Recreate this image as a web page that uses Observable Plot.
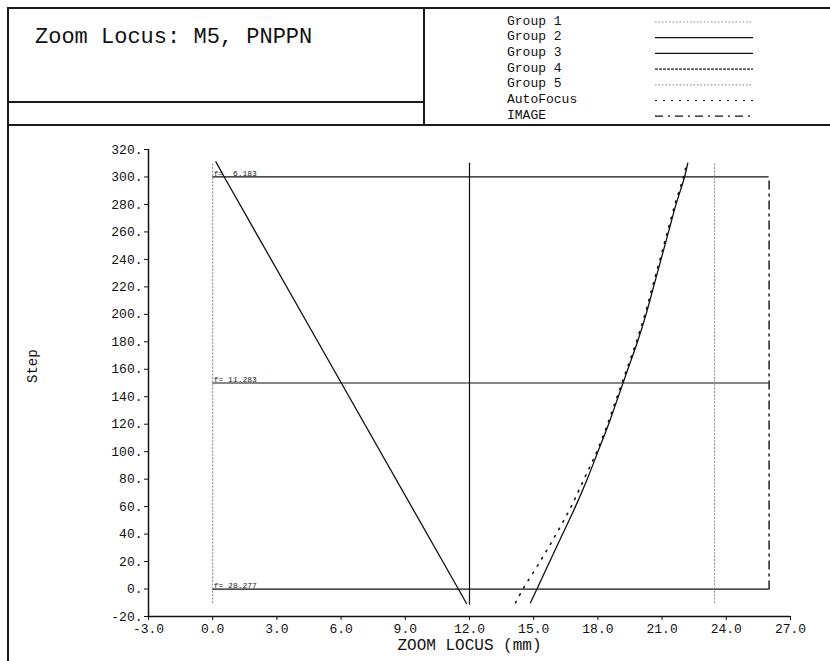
<!DOCTYPE html>
<html>
<head>
<meta charset="utf-8">
<script src="https://cdn.jsdelivr.net/npm/d3@7"></script>
<script src="https://cdn.jsdelivr.net/npm/@observablehq/plot@0.6"></script>
<style>
  html, body { margin: 0; padding: 0; background: #fff; overflow: hidden; }
  #page { position: relative; width: 830px; height: 661px; font-family: "Liberation Mono", "DejaVu Sans Mono", monospace; color: #111; }
  .ln { position: absolute; background: #1a1a1a; }
  #title { position: absolute; left: 35px; top: 27px; font-size: 22px; white-space: pre; line-height: 1; }
  .lg { position: absolute; left: 507px; font-size: 13px; white-space: pre; line-height: 1; }
  #legendSvg { position: absolute; left: 0; top: 0; }
  #chart { position: absolute; left: 0; top: 124px; }
</style>
</head>
<body>
<div id="page">
  <div class="ln" style="left:7px; top:7px; width:823px; height:2px;"></div>
  <div class="ln" style="left:7px; top:7px; width:2px; height:654px;"></div>
  <div class="ln" style="left:423px; top:7px; width:2px; height:118px;"></div>
  <div class="ln" style="left:7px; top:101px; width:417px; height:1.5px;"></div>
  <div class="ln" style="left:7px; top:124px; width:823px; height:2px;"></div>
  <div id="title">Zoom Locus: M5, PNPPN</div>
  <div id="legend"></div>
  <div id="chart"></div>
</div>
<script>
// ---- Data ----
const titleText = "Zoom Locus: M5, PNPPN";
const legendNames = ["Group 1", "Group 2", "Group 3", "Group 4", "Group 5", "AutoFocus", "IMAGE"];
const legendDash = ["1.5,2", "none", "none", "3,1", "1.5,2", "2,6", "8,5,2,5"];
const legendColor = ["#888", "#111", "#111", "#222", "#999", "#111", "#111"];

const xTicks = [-3, 0, 3, 6, 9, 12, 15, 18, 21, 24, 27];
const yTicks = [-20, 0, 20, 40, 60, 80, 100, 120, 140, 160, 180, 200, 220, 240, 260, 280, 300, 320];

// Group 1: fixed (gray dotted at 0)
const group1Pos = [0, 0];
const group1Step = [-10, 311];
// Group 2: moving linear (left diagonal)
const group2Step = [311, 300, 150, 0, -10.5];
const group2Pos = [0.15, 0.54, 6.01, 11.48, 11.86];
// Group 3: fixed at 12
const group3Pos = [12.0, 12.0];
const group3Step = [-11, 310];
// Group 4: compensator curve
const group4Step = [-10, 0, 20, 40, 60, 80, 100, 120, 140, 160, 180, 200, 220, 240, 260, 280, 300, 310];
const group4Pos = [14.85, 15.15, 15.75, 16.35, 16.95, 17.5, 18.0, 18.5, 18.95, 19.4, 19.85, 20.25, 20.6, 20.95, 21.3, 21.65, 22.05, 22.2];
// Group 5: fixed (gray dotted)
const group5Pos = [23.45, 23.45];
const group5Step = [-10, 310];
// AutoFocus curve
const autoStep = [-10, 0, 20, 40, 60, 80, 100, 120, 140, 160, 180, 200, 220, 240, 260, 280, 300, 310];
const autoPos = [14.15, 14.5, 15.3, 16.05, 16.75, 17.35, 17.95, 18.45, 18.9, 19.35, 19.8, 20.2, 20.55, 20.9, 21.25, 21.6, 22.0, 22.15];
// IMAGE plane
const imagePos = [26.0, 26.0];
const imageStep = [0, 300];
// Zoom positions
const zoomSteps = [300, 150, 0];
const zoomLabels = ["f=  6.183", "f= 11.283", "f= 28.277"];
const zoomStart = 0;
const zoomEnd = 26.0;

// ---- Header legend ----
const legendDiv = document.getElementById("legend");
const ns = "http://www.w3.org/2000/svg";
const lsvg = document.createElementNS(ns, "svg");
lsvg.setAttribute("width", 830); lsvg.setAttribute("height", 124);
lsvg.id = "legendSvg";
legendNames.forEach((name, i) => {
  const cy = 21 + i * 15.7;
  const t = document.createElement("div");
  t.className = "lg";
  t.style.top = (cy - 6.5) + "px";
  t.textContent = name;
  legendDiv.appendChild(t);
  const l = document.createElementNS(ns, "line");
  l.setAttribute("x1", 655); l.setAttribute("x2", 753);
  l.setAttribute("y1", cy + 1); l.setAttribute("y2", cy + 1);
  l.setAttribute("stroke", legendColor[i]);
  l.setAttribute("stroke-width", 1.2);
  if (legendDash[i] !== "none") l.setAttribute("stroke-dasharray", legendDash[i]);
  lsvg.appendChild(l);
});
legendDiv.appendChild(lsvg);
document.getElementById("title").textContent = titleText;

// ---- Chart ----
const rows = (xs, ys) => xs.map((x, i) => ({x, y: ys[i]}));

const chart = Plot.plot({
  width: 830,
  height: 537,
  marginLeft: 148,
  marginRight: 40,
  marginTop: 25,
  marginBottom: 45,
  style: {fontFamily: "Liberation Mono, monospace", fontSize: "13px", color: "#111", background: "transparent"},
  x: {domain: [-3, 27]},
  y: {domain: [-20, 320]},
  marks: [
    Plot.axisX({ticks: xTicks, tickFormat: d => d.toFixed(1), tickSize: 4, tickPadding: 3, label: null, stroke: "#111"}),
    Plot.axisY({ticks: yTicks, tickFormat: d => d + ".", tickSize: 4, tickPadding: 2, label: null, stroke: "#111"}),
    Plot.ruleX([-3], {stroke: "#111", strokeWidth: 1.5}),
    Plot.ruleY([-20], {stroke: "#111", strokeWidth: 1.5}),
    // zoom position lines
    Plot.ruleY(zoomSteps, {x1: zoomStart, x2: zoomEnd, stroke: "#111", strokeWidth: 1.2}),
    Plot.text(zoomSteps, {x: zoomStart, y: d => d, text: (d, i) => zoomLabels[i], textAnchor: "start", dx: 1, dy: -4, fontSize: 8, fill: "#222"}),
    // groups
    Plot.line(rows(group1Pos, group1Step), {x: "x", y: "y", stroke: "#888", strokeWidth: 1, strokeDasharray: "1.5,2"}),
    Plot.line(rows(group5Pos, group5Step), {x: "x", y: "y", stroke: "#999", strokeWidth: 1, strokeDasharray: "1.5,2"}),
    Plot.line(rows(group3Pos, group3Step), {x: "x", y: "y", stroke: "#111", strokeWidth: 1.2}),
    Plot.line(rows(imagePos, imageStep), {x: "x", y: "y", stroke: "#111", strokeWidth: 1.4, strokeDasharray: "8,5,2,5"}),
    Plot.line(rows(group2Pos, group2Step), {x: "x", y: "y", stroke: "#111", strokeWidth: 1.3}),
    Plot.line(rows(autoPos, autoStep), {x: "x", y: "y", stroke: "#111", strokeWidth: 1.6, strokeDasharray: "1.5,7", curve: "catmull-rom"}),
    Plot.line(rows(group4Pos, group4Step), {x: "x", y: "y", stroke: "#111", strokeWidth: 1.3, curve: "catmull-rom"}),
    // axis titles
    Plot.text(["Step"], {frameAnchor: "left", dx: -116, rotate: -90, text: d => d, fontSize: 14, fill: "#111"}),
    Plot.text(["ZOOM LOCUS (mm)"], {frameAnchor: "bottom", dy: 33, text: d => d, fontSize: 16, fill: "#111"})
  ]
});
document.getElementById("chart").appendChild(chart);
</script>
</body>
</html>
